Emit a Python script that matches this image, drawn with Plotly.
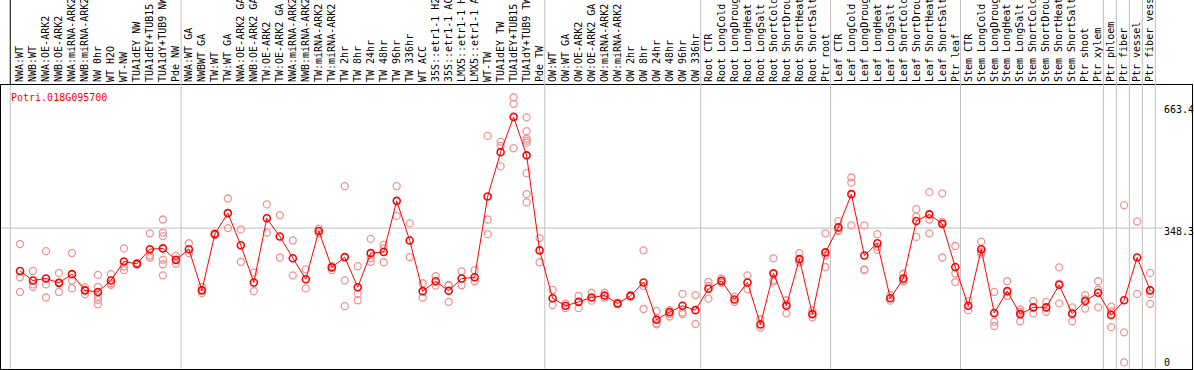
import plotly.graph_objects as go

title_text = "Potri.018G095700"

categories = [
    "NWA:WT", "NWB:WT", "NWA:OE-ARK2", "NWB:OE-ARK2", "NWA:miRNA-ARK2", "NWB:miRNA-ARK2",
    "NW 0hr", "WT H2O", "WT-NW", "TUA1dEY NW", "TUA1dEY+TUB15 NW", "TUA1dY+TUB9 NW", "Pde NW",
    "NWA:WT GA", "NWBWT GA", "TW:WT", "TW:WT GA", "NWA:OE-ARK2 GA", "NWB:OE-ARK2 GA",
    "TW:OE-ARK2", "TW:OE-ARK2 GA", "NWA:miRNA-ARK2 GA", "NWB:miRNA-ARK2 GA", "TW:miRNA-ARK2",
    "TW:miRNA-ARK2 GA", "TW 2hr", "TW 8hr", "TW 24hr", "TW 48hr", "TW 96hr", "TW 336hr",
    "WT ACC", "35S::etr1-1 H2O", "35S::etr1-1 ACC", "LMX5::etr1-1 H2O", "LMX5::etr1-1 ACC",
    "WT-TW", "TUA1dEY TW", "TUA1dEY+TUB15 TW", "TUA1dY+TUB9 TW", "Pde TW",
    "OW:WT", "OW:WT GA", "OW:OE-ARK2", "OW:OE-ARK2 GA", "OW:miRNA-ARK2", "OW:miRNA-ARK2 GA",
    "OW 2hr", "OW 8hr", "OW 24hr", "OW 48hr", "OW 96hr", "OW 336hr",
    "Root CTR", "Root LongCold", "Root LongDrought", "Root LongHeat", "Root LongSalt",
    "Root ShortCold", "Root ShortDrought", "Root ShortHeat", "Root ShortSalt", "Ptr root",
    "Leaf CTR", "Leaf LongCold", "Leaf LongDrought", "Leaf LongHeat", "Leaf LongSalt",
    "Leaf ShortCold", "Leaf ShortDrought", "Leaf ShortHeat", "Leaf ShortSalt", "Ptr leaf",
    "Stem CTR", "Stem LongCold", "Stem LongDrought", "Stem LongHeat", "Stem LongSalt",
    "Stem ShortCold", "Stem ShortDrought", "Stem ShortHeat", "Stem ShortSalt", "Ptr shoot",
    "Ptr xylem", "Ptr phloem", "Ptr fiber", "Ptr vessel", "Ptr fiber vessel",
]

means = [
    240, 216, 221, 210, 232, 191, 187, 216, 264, 258, 295, 297, 268,
    295, 191, 333, 386, 305, 211, 373, 327, 272, 219, 341, 249, 275, 199, 285, 288, 417,
    317, 189, 214, 190, 221, 224, 428, 540, 629, 532, 292,
    171, 152, 162, 173, 178, 158, 177, 211, 117, 136, 152, 141,
    195, 215, 168, 211, 105, 234, 152, 270, 131, 287,
    350, 434, 279, 310, 171, 221, 366, 383, 359, 250,
    152, 295, 134, 189, 131, 148, 148, 205, 132, 164, 185,
    129, 166, 274, 191,
]

replicates = [
    [308, 224, 187], [240, 206, 200], [290, 206, 173], [235, 210, 187], [285, 216, 196],
    [199, 181, 191], [230, 200, 175, 167, 156], [232, 209, 205], [297, 251, 242],
    [260, 257, 256], [335, 279, 274], [370, 337, 328, 268, 257, 229], [278, 258],
    [310, 285], [200, 184], [335, 331], [423, 348], [345, 263], [236, 189], [408, 337],
    [381, 274], [317, 229], [244, 196], [347, 335], [252, 242], [454, 216, 151],
    [252, 182, 166], [321, 272, 263], [306, 297, 262], [454, 379],
    [360, 275], [209, 173], [227, 203], [205, 203, 162], [239, 204], [242, 214],
    [581, 370, 333], [566, 556, 504], [678, 662, 550],
    [628, 593, 574, 569, 564, 487, 434, 413], [323, 262],
    [192, 154], [158, 146], [177, 146], [185, 165], [185, 173], [160, 156], [179, 175],
    [292, 202, 144], [139, 108, 105], [141, 131, 125], [182, 135, 131], [179, 106],
    [212, 202, 170], [221, 210], [175, 162], [229, 194], [118, 97], [272, 213, 217],
    [166, 157, 133], [285, 262, 263], [140, 123], [335, 279, 250],
    [366, 343, 341], [476, 463, 355], [355, 244, 242], [333, 301, 293], [179, 165],
    [233, 213, 217], [396, 377, 326], [439, 370, 335], [436, 364, 274], [303, 234, 212],
    [164, 141], [314, 283, 288], [187, 112, 101], [214, 177, 177], [143, 137, 113],
    [164, 133], [162, 137], [249, 158, 208], [148, 135, 113], [179, 145, 168],
    [214, 148, 193], [150, 138, 98], [406, 85, 9], [365, 182], [235, 182, 157],
]

group_ends = [13, 41, 53, 63, 73, 84, 85, 86, 87, 88]
axis_values = [663.4, 348.3, 0]
axis_labels = ["663.4", "348.3", "0"]
ref_line_value = 348.3

# ---- layout geometry ----
W, H = 1194, 370
ML, MR, MT, MB = 1, 2, 85, 1
plot_w = W - ML - MR
plot_h = H - MT - MB
step = 12.99
first_px = 20
xmin = 1 + (ML - first_px) / step
xmax = 1 + (W - MR - first_px) / step
ymin, ymax = -7.58, 709.6

def xpaper(c):
    return (c - xmin) / (xmax - xmin)

def xpx_to_paper(px):
    return (px - ML) / plot_w

def ypx_to_paper(py):
    return (H - MB - py) / plot_h

idx = list(range(1, len(categories) + 1))

rx, ry = [], []
for i, reps in zip(idx, replicates):
    for v in reps:
        rx.append(i)
        ry.append(v)

fig = go.Figure()
fig.add_trace(go.Scatter(
    x=rx, y=ry, mode="markers",
    marker=dict(symbol="circle-open", size=7, color="rgb(240,148,148)",
                line=dict(width=1.3, color="rgb(240,148,148)")),
    hoverinfo="skip", showlegend=False,
))
fig.add_trace(go.Scatter(
    x=idx, y=means, mode="lines+markers",
    line=dict(color="#ff0000", width=1),
    marker=dict(symbol="circle-open", size=7, color="#ff0000",
                line=dict(width=1.6, color="#ee0000")),
    showlegend=False,
))

shapes = []
header_top = ypx_to_paper(0)
bounds = [0.25] + [g + 0.4 for g in group_ends]
for k, c in enumerate(bounds):
    xp = xpaper(c)
    shapes.append(dict(type="line", xref="paper", yref="paper", x0=xp, x1=xp, y0=0, y1=1,
                       line=dict(color="#c0c0c0", width=1), layer="below"))
    shapes.append(dict(type="line", xref="paper", yref="paper", x0=xp, x1=xp, y0=1, y1=header_top,
                       line=dict(color="#000000" if k == 0 else "#c0c0c0", width=1)))
shapes.append(dict(type="line", xref="paper", yref="y", x0=0, x1=xpx_to_paper(1163),
                   y0=ref_line_value, y1=ref_line_value,
                   line=dict(color="#c0c0c0", width=1), layer="below"))

annotations = [dict(
    text=title_text, xref="paper", yref="paper", x=xpx_to_paper(9), y=ypx_to_paper(97.5),
    xanchor="left", yanchor="middle", showarrow=False,
    font=dict(family="DejaVu Sans Mono", size=10, color="#ff0000"),
)]
label_shift = [-6, -3.6, 4]
for v, t, s in zip(axis_values, axis_labels, label_shift):
    annotations.append(dict(
        text=t, xref="paper", yref="y", x=xpx_to_paper(1162), y=v, yshift=s,
        xanchor="left", yanchor="middle", showarrow=False,
        font=dict(family="DejaVu Sans Mono", size=10, color="#000000"),
    ))

fig.update_layout(
    width=W, height=H,
    margin=dict(l=ML, r=MR, t=MT, b=MB, pad=0, autoexpand=False),
    plot_bgcolor="white", paper_bgcolor="white",
    shapes=shapes, annotations=annotations,
    xaxis=dict(range=[xmin, xmax], side="top", tickmode="array",
               tickvals=idx, ticktext=categories,
               tickangle=-90, ticks="", showgrid=False, zeroline=False,
               automargin=False,
               showline=True, mirror=True, linecolor="black", linewidth=1,
               tickfont=dict(family="DejaVu Sans Mono", size=10, color="black")),
    yaxis=dict(range=[ymin, ymax], showticklabels=False, ticks="", showgrid=False,
               automargin=False,
               zeroline=False, showline=True, mirror=True, linecolor="black", linewidth=1),
)

fig.write_html(
    "out.html",
    config={"displayModeBar": False},
    post_script="document.body.style.margin='0';document.body.style.padding='0';"
                "document.body.style.overflow='hidden';",
)
